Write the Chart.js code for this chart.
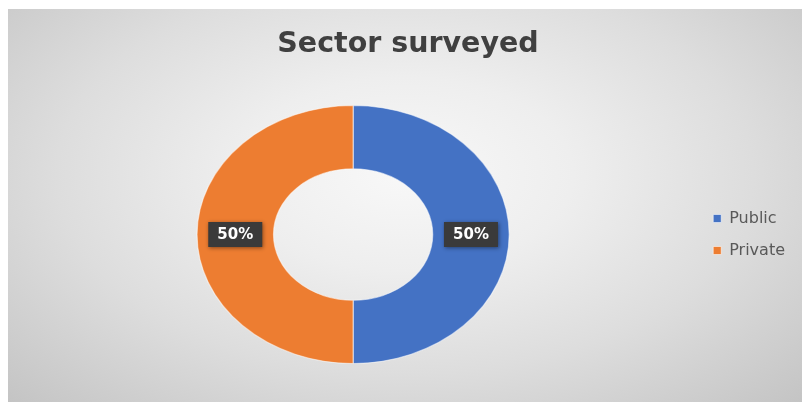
<!DOCTYPE html>
<html>
<head>
<meta charset="utf-8">
<title>Sector surveyed</title>
<script src="https://cdn.jsdelivr.net/npm/chart.js@4/dist/chart.umd.min.js"></script>
<style>
  html, body { margin: 0; padding: 0; background: #ffffff; }
  body { width: 802px; height: 403px; position: relative; overflow: hidden; }
  #panel {
    position: absolute; left: 8px; top: 9px; width: 794px; height: 393px;
    background: radial-gradient(ellipse farthest-corner at 50% 42%, #f8f8f8 0%, #eeeeee 30%, #dddddd 62%, #c4c4c4 100%);
  }
  #panel canvas { display: block; }
</style>
</head>
<body>
<div id="panel"><canvas id="chart"></canvas></div>
<script>
// Survey split by sector
const titleText = 'Sector surveyed';
const sectors = ['Public', 'Private'];
const shares = [50, 50];
const sectorColors = ['#4472C4', '#ED7D31'];

// Horizontal stretch applied to the ring (the chart is wider than tall)
const STRETCH_X = 1.21;

const ringStretch = {
  id: 'ringStretch',
  beforeDatasetsDraw(chart) {
    const arc = chart.getDatasetMeta(0).data[0];
    const ctx = chart.ctx;
    ctx.save();
    ctx.translate(arc.x, 0);
    ctx.scale(STRETCH_X, 1);
    ctx.translate(-arc.x, 0);
  },
  afterDatasetsDraw(chart) {
    chart.ctx.restore();
  }
};

// Percentage tags in dark boxes at the middle of each slice
const percentTags = {
  id: 'percentTags',
  afterDatasetsDraw(chart) {
    const ctx = chart.ctx;
    const ds = chart.data.datasets[0];
    const total = ds.data.reduce((a, b) => a + b, 0);
    const meta = chart.getDatasetMeta(0);
    meta.data.forEach((arc, i) => {
      const p = arc.getProps(['x', 'y', 'startAngle', 'endAngle', 'innerRadius', 'outerRadius'], true);
      const mid = (p.startAngle + p.endAngle) / 2;
      const r = (p.innerRadius + p.outerRadius) / 2;
      const cx = p.x + Math.cos(mid) * r * STRETCH_X;
      const cy = p.y + Math.sin(mid) * r;
      const label = Math.round(ds.data[i] / total * 100) + '%';
      const w = 54, h = 25;
      ctx.save();
      ctx.shadowColor = 'rgba(0,0,0,0.45)';
      ctx.shadowBlur = 4;
      ctx.shadowOffsetX = 1;
      ctx.shadowOffsetY = 1;
      ctx.fillStyle = '#3a3a3a';
      ctx.fillRect(cx - w / 2, cy - h / 2, w, h);
      ctx.restore();
      ctx.save();
      ctx.fillStyle = '#ffffff';
      ctx.font = 'bold 15px "DejaVu Sans", sans-serif';
      ctx.textAlign = 'center';
      ctx.textBaseline = 'middle';
      ctx.fillText(label, cx, cy + 1);
      ctx.restore();
    });
  }
};

// Chart heading, centred across the whole canvas
const heading = {
  id: 'heading',
  afterDraw(chart) {
    const ctx = chart.ctx;
    ctx.save();
    ctx.fillStyle = '#404040';
    ctx.font = 'bold 28.5px "DejaVu Sans", sans-serif';
    ctx.textAlign = 'center';
    ctx.textBaseline = 'alphabetic';
    ctx.fillText(titleText, chart.width / 2 + 3, 43);
    ctx.restore();
  }
};

new Chart(document.getElementById('chart'), {
  type: 'doughnut',
  data: {
    labels: sectors,
    datasets: [{
      data: shares,
      backgroundColor: sectorColors,
      borderColor: 'rgba(255,255,255,0.55)',
      borderWidth: 1
    }]
  },
  options: {
    responsive: true,
    maintainAspectRatio: false,
    animation: false,
    radius: 129,
    cutout: '51%',
    layout: { padding: { left: 1, right: 7, top: 60, bottom: 2 } },
    plugins: {
      title: { display: false },
      legend: {
        display: true,
        position: 'right',
        fullSize: false,
        align: 'center',
        labels: {
          color: '#595959',
          font: { family: '"DejaVu Sans", sans-serif', size: 16 },
          boxWidth: 8,
          boxHeight: 8,
          padding: 16
        }
      },
      tooltip: { enabled: false }
    }
  },
  plugins: [ringStretch, percentTags, heading]
});
</script>
</body>
</html>
